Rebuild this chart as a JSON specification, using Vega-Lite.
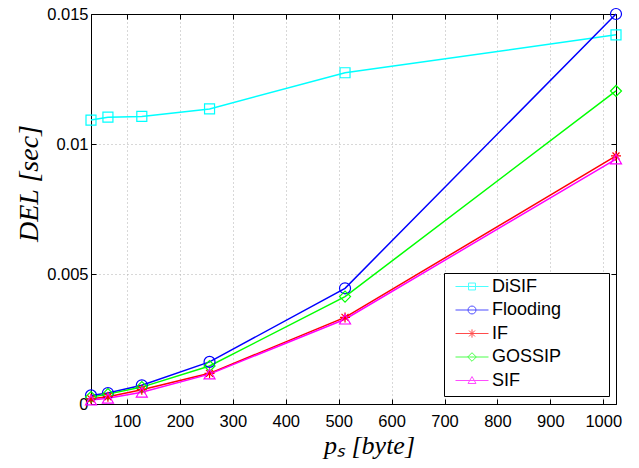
{
  "$schema": "https://vega.github.io/schema/vega-lite/v6.json",
  "width": 525,
  "height": 390,
  "autosize": {"type": "none"},
  "padding": {"left": 91, "top": 14, "right": 23, "bottom": 64},
  "background": "white",
  "config": {
    "view": {"stroke": "black", "strokeWidth": 1},
    "axis": {
      "labelFont": "Liberation Sans",
      "labelFontSize": 16.5,
      "labelColor": "black",
      "domainColor": "black",
      "tickColor": "black",
      "tickSize": -5,
      "gridColor": "#b0b0b0",
      "gridDash": [1, 3],
      "gridWidth": 1,
      "titleColor": "black",
      "titleFont": "Liberation Serif",
      "titleFontStyle": "italic",
      "titleFontWeight": "normal"
    },
    "legend": {
      "orient": "none",
      "legendX": 353,
      "legendY": 259,
      "direction": "vertical",
      "strokeColor": "black",
      "fillColor": "white",
      "padding": 6,
      "symbolSize": 1089,
      "symbolStrokeWidth": 1,
      "symbolOffset": 5,
      "labelFont": "Liberation Sans",
      "labelFontSize": 18,
      "labelColor": "black",
      "labelOffset": 3,
      "rowPadding": 4.5,
      "clipHeight": 15,
      "cornerRadius": 0
    }
  },
  "resolve": {"legend": {"color": "independent", "shape": "independent"}},
  "data": {
    "values": [
      {"series": "DiSIF", "ps": 32, "del": 0.01092},
      {"series": "DiSIF", "ps": 64, "del": 0.01103},
      {"series": "DiSIF", "ps": 128, "del": 0.01106},
      {"series": "DiSIF", "ps": 256, "del": 0.01135},
      {"series": "DiSIF", "ps": 512, "del": 0.01274},
      {"series": "DiSIF", "ps": 1024, "del": 0.01420},
      {"series": "Flooding", "ps": 32, "del": 0.00033},
      {"series": "Flooding", "ps": 64, "del": 0.00042},
      {"series": "Flooding", "ps": 128, "del": 0.00072},
      {"series": "Flooding", "ps": 256, "del": 0.00162},
      {"series": "Flooding", "ps": 512, "del": 0.00445},
      {"series": "Flooding", "ps": 1024, "del": 0.01500},
      {"series": "IF", "ps": 32, "del": 0.00020},
      {"series": "IF", "ps": 64, "del": 0.00028},
      {"series": "IF", "ps": 128, "del": 0.00055},
      {"series": "IF", "ps": 256, "del": 0.00118},
      {"series": "IF", "ps": 512, "del": 0.00333},
      {"series": "IF", "ps": 1024, "del": 0.00954},
      {"series": "GOSSIP", "ps": 32, "del": 0.00027},
      {"series": "GOSSIP", "ps": 64, "del": 0.00038},
      {"series": "GOSSIP", "ps": 128, "del": 0.00065},
      {"series": "GOSSIP", "ps": 256, "del": 0.00146},
      {"series": "GOSSIP", "ps": 512, "del": 0.00413},
      {"series": "GOSSIP", "ps": 1024, "del": 0.01204},
      {"series": "SIF", "ps": 32, "del": 0.00015},
      {"series": "SIF", "ps": 64, "del": 0.00022},
      {"series": "SIF", "ps": 128, "del": 0.00045},
      {"series": "SIF", "ps": 256, "del": 0.00115},
      {"series": "SIF", "ps": 512, "del": 0.00326},
      {"series": "SIF", "ps": 1024, "del": 0.00942}
    ]
  },
  "layer": [
    {
      "mark": {"type": "line", "strokeWidth": 1.5},
      "encoding": {
        "x": {
          "field": "ps", "type": "quantitative",
          "scale": {"domain": [32, 1024], "nice": false, "zero": false},
          "axis": {
            "orient": "bottom",
            "values": [100, 200, 300, 400, 500, 600, 700, 800, 900, 1000],
            "format": "d",
            "grid": true,
            "labelPadding": 14,
            "title": "pₛ [byte]",
            "titleFontSize": 26,
            "titleX": 278,
            "titleY": 49,
            "titleAlign": "center",
            "titleBaseline": "alphabetic"
          }
        },
        "y": {
          "field": "del", "type": "quantitative",
          "scale": {"domain": [0, 0.015], "nice": false, "zero": false},
          "axis": {
            "orient": "left",
            "values": [0, 0.005, 0.01, 0.015],
            "labelExpr": "datum.value == 0 ? '0' : format(datum.value, '~g')",
            "grid": true,
            "labelPadding": 8,
            "title": "DEL [sec]",
            "titleFontSize": 28,
            "titleX": -54,
            "titleY": 169,
            "titleAngle": -90,
            "titleAlign": "center",
            "titleBaseline": "alphabetic"
          }
        },
        "color": {
          "field": "series", "type": "nominal",
          "scale": {"domain": ["DiSIF", "Flooding", "IF", "GOSSIP", "SIF"], "range": ["#00ffff", "#0000ff", "#ff0000", "#00ff00", "#ff00ff"]},
          "legend": null
        }
      }
    },
    {
      "transform": [{"filter": "false"}],
      "mark": {"type": "point"},
      "encoding": {
        "x": {
          "field": "ps", "type": "quantitative",
          "scale": {"domain": [32, 1024], "nice": false, "zero": false},
          "axis": {"orient": "top", "values": [100, 200, 300, 400, 500, 600, 700, 800, 900, 1000], "labels": false, "grid": false, "title": null}
        },
        "y": {
          "field": "del", "type": "quantitative",
          "scale": {"domain": [0, 0.015], "nice": false, "zero": false},
          "axis": {"orient": "right", "values": [0, 0.005, 0.01, 0.015], "labels": false, "grid": false, "title": null}
        }
      }
    },
    {
      "transform": [{"filter": "datum.series === 'DiSIF'"}],
      "mark": {"type": "point", "shape": "square", "size": 100, "filled": false, "strokeWidth": 1.2, "opacity": 1},
      "encoding": {
        "x": {"field": "ps", "type": "quantitative", "scale": {"domain": [32, 1024], "nice": false, "zero": false}, "axis": null},
        "y": {"field": "del", "type": "quantitative", "scale": {"domain": [0, 0.015], "nice": false, "zero": false}, "axis": null},
        "color": {"field": "series", "type": "nominal", "legend": null}
      }
    },
    {
      "transform": [{"filter": "datum.series === 'Flooding'"}],
      "mark": {"type": "point", "shape": "circle", "size": 121, "filled": false, "strokeWidth": 1.2, "opacity": 1},
      "encoding": {
        "x": {"field": "ps", "type": "quantitative", "scale": {"domain": [32, 1024], "nice": false, "zero": false}, "axis": null},
        "y": {"field": "del", "type": "quantitative", "scale": {"domain": [0, 0.015], "nice": false, "zero": false}, "axis": null},
        "color": {"field": "series", "type": "nominal", "legend": null}
      }
    },
    {
      "transform": [{"filter": "datum.series === 'GOSSIP'"}],
      "mark": {"type": "point", "shape": "diamond", "size": 121, "filled": false, "strokeWidth": 1.2, "opacity": 1},
      "encoding": {
        "x": {"field": "ps", "type": "quantitative", "scale": {"domain": [32, 1024], "nice": false, "zero": false}, "axis": null},
        "y": {"field": "del", "type": "quantitative", "scale": {"domain": [0, 0.015], "nice": false, "zero": false}, "axis": null},
        "color": {"field": "series", "type": "nominal", "legend": null}
      }
    },
    {
      "transform": [{"filter": "datum.series === 'IF'"}],
      "mark": {"type": "point", "shape": "M0,-1V1M-1,0H1M-0.7,-0.7L0.7,0.7M-0.7,0.7L0.7,-0.7", "size": 100, "filled": false, "strokeWidth": 1.2, "opacity": 1},
      "encoding": {
        "x": {"field": "ps", "type": "quantitative", "scale": {"domain": [32, 1024], "nice": false, "zero": false}, "axis": null},
        "y": {"field": "del", "type": "quantitative", "scale": {"domain": [0, 0.015], "nice": false, "zero": false}, "axis": null},
        "color": {"field": "series", "type": "nominal", "legend": null}
      }
    },
    {
      "transform": [{"filter": "datum.series === 'SIF'"}],
      "mark": {"type": "point", "shape": "triangle-up", "size": 121, "filled": false, "strokeWidth": 1.2, "opacity": 1},
      "encoding": {
        "x": {"field": "ps", "type": "quantitative", "scale": {"domain": [32, 1024], "nice": false, "zero": false}, "axis": null},
        "y": {"field": "del", "type": "quantitative", "scale": {"domain": [0, 0.015], "nice": false, "zero": false}, "axis": null},
        "color": {"field": "series", "type": "nominal", "legend": null}
      }
    },
    {
      "transform": [{"filter": "false"}],
      "mark": {"type": "point", "filled": false, "strokeWidth": 1},
      "encoding": {
        "color": {
          "field": "series", "type": "nominal",
          "legend": {"title": null, "labelExpr": "datum.label + '\u2003\u2003\u00a0\u200b'"}
        },
        "shape": {
          "field": "series", "type": "nominal",
          "scale": {
            "domain": ["DiSIF", "Flooding", "IF", "GOSSIP", "SIF"],
            "range": [
              "M-1,0H1M-0.21,-0.21H0.21V0.21H-0.21Z",
              "M-1,0H1M0.24,0A0.24,0.24,0,1,1,-0.24,0A0.24,0.24,0,1,1,0.24,0",
              "M-1,0H1M0,-0.25V0.25M-0.18,-0.18L0.18,0.18M-0.18,0.18L0.18,-0.18",
              "M-1,0H1M-0.26,0L0,-0.26L0.26,0L0,0.26Z",
              "M-1,0H1M0,-0.24L0.24,0.18L-0.24,0.18Z"
            ]
          },
          "legend": {"title": null, "labelExpr": "datum.label + '\u2003\u2003\u00a0\u200b'"}
        }
      }
    }
  ]
}
